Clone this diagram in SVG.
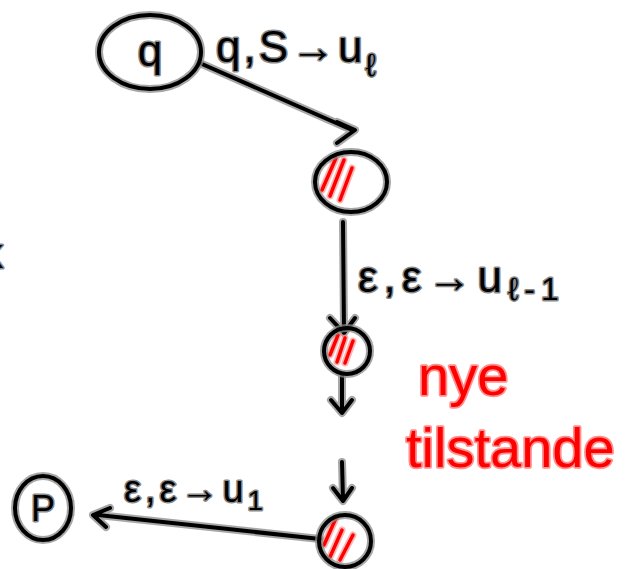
<svg xmlns="http://www.w3.org/2000/svg" width="627" height="569" viewBox="0 0 627 569">
<style>
.halo{fill:none;stroke:#8a8a8a;stroke-width:8;stroke-linecap:round;stroke-linejoin:round;opacity:0.75}
.ink{fill:none;stroke:#000;stroke-width:4;stroke-linecap:round;stroke-linejoin:round}
.hatch{fill:none;stroke:#ff0000;stroke-width:3.5;stroke-linecap:round}
.hatchh{fill:none;stroke:#ff8080;stroke-width:7;stroke-linecap:round;opacity:0.6}
.lbl{font-family:"Liberation Sans",Arial,sans-serif;fill:#000;stroke:#8a8a8a;stroke-width:3;paint-order:stroke;stroke-linejoin:round}
.red{font-family:"Liberation Sans",Arial,sans-serif;fill:#ff0000;stroke:#ff9090;stroke-width:3.5;paint-order:stroke;stroke-linejoin:round}
</style>
<defs>
<path id="e1" d="M202,64 L352,130 M337,122 L355,130 L337,143"/>
<path id="e2" d="M343,222 L344,332 M330,318 L344,333 L355,318"/>
<path id="e3" d="M342,375 L342,412 M331,400 L342,413 L352,400"/>
<path id="e4" d="M342,462 L343,500 M333,488 L343,501 L352,488"/>
<path id="e5" d="M320,539 L98,515 M110,508 L93,515 L106,527"/>
</defs>
<rect width="627" height="569" fill="#fff"/>
<g id="connectors">
<use href="#e1" class="halo"/><use href="#e1" class="ink"/>
<use href="#e2" class="halo"/><use href="#e2" class="ink"/>
<use href="#e3" class="halo"/><use href="#e3" class="ink"/>
<use href="#e4" class="halo"/><use href="#e4" class="ink"/>
<use href="#e5" class="halo"/><use href="#e5" class="ink"/>
<text class="lbl" x="216" y="62" font-size="44" letter-spacing="3">q,S→u<tspan font-size="32" dy="14">ℓ</tspan></text>
<text class="lbl" x="358" y="292" font-size="44" letter-spacing="6">ε,ε→u<tspan font-size="32" dy="8">ℓ-1</tspan></text>
<text class="lbl" x="124" y="502" font-size="38" letter-spacing="4">ε,ε→u<tspan font-size="28" dy="8">1</tspan></text>
</g>
<g id="q">
<ellipse cx="150" cy="52" rx="51" ry="37" class="halo"/>
<ellipse cx="150" cy="52" rx="51" ry="37" class="ink"/>
<text class="lbl" x="150" y="66" font-size="44" text-anchor="middle">q</text>
</g>
<g id="s1">
<path d="M322,190 L336,158 M330,196 L344,160 M340,200 L352,168" class="hatchh"/>
<path d="M322,190 L336,158 M330,196 L344,160 M340,200 L352,168" class="hatch"/>
<ellipse cx="351" cy="182" rx="36" ry="30" class="halo"/>
<ellipse cx="351" cy="182" rx="36" ry="30" class="ink"/>
</g>
<g id="s2">
<path d="M330,355 L338,335 M337,362 L345,338 M345,363 L353,341" class="hatchh"/>
<path d="M330,355 L338,335 M337,362 L345,338 M345,363 L353,341" class="hatch"/>
<circle cx="347" cy="351" r="23" class="halo"/>
<circle cx="347" cy="351" r="23" class="ink"/>
</g>
<g id="s3">
<path d="M324,545 L336,518 M330,557 L342,530 M340,560 L353,535" class="hatchh"/>
<path d="M324,545 L336,518 M330,557 L342,530 M340,560 L353,535" class="hatch"/>
<circle cx="345" cy="541" r="26" class="halo"/>
<circle cx="345" cy="541" r="26" class="ink"/>
</g>
<g id="p">
<ellipse cx="43" cy="508" rx="28" ry="32" class="halo"/>
<ellipse cx="43" cy="508" rx="28" ry="32" class="ink"/>
<text class="lbl" x="43" y="521" font-size="36" text-anchor="middle">P</text>
</g>
<g id="note">
<text class="red" x="418" y="395" font-size="56">nye</text>
<text class="red" x="406" y="467" font-size="56">tilstande</text>
</g>
<text class="lbl" x="-18" y="268" font-size="42">k</text>
</svg>
